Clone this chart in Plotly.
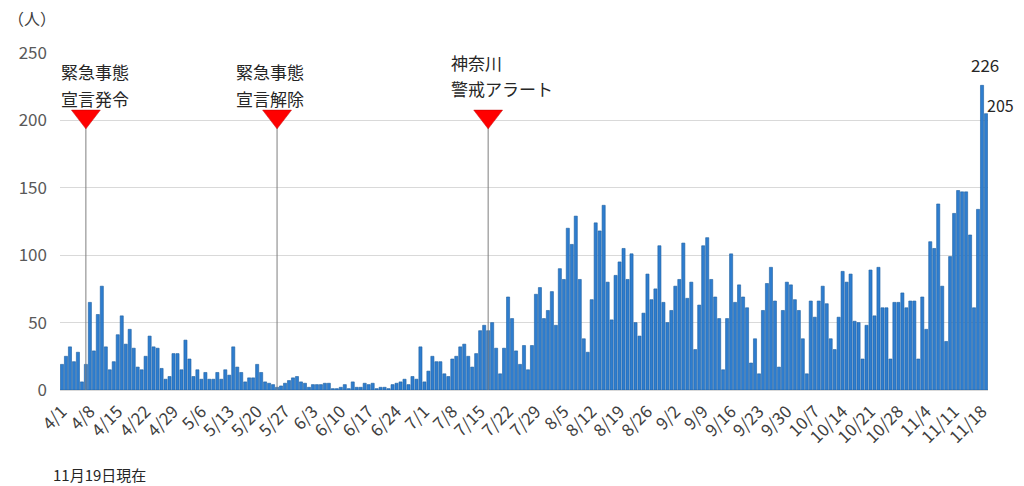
import plotly.graph_objects as go
import pandas as pd

# daily counts, 4/1 - 11/19
apr = [19, 25, 32, 21, 28, 6, 19, 65, 29, 56, 77, 32, 15, 21, 41, 55, 34, 45, 31, 17,
       15, 25, 40, 32, 31, 16, 8, 10, 27, 27]
may = [15, 37, 23, 10, 15, 8, 13, 8, 8, 13, 8, 15, 11, 32, 17, 13, 6, 9, 9, 19,
       13, 6, 5, 4, 2, 3, 5, 7, 9, 10, 6]
jun = [5, 2, 4, 4, 4, 5, 5, 1, 1, 2, 4, 1, 6, 2, 2, 5, 4, 5, 1, 2,
       2, 1, 4, 5, 6, 8, 4, 10, 8, 32]
jul = [6, 14, 25, 21, 21, 12, 10, 23, 25, 32, 34, 25, 17, 27, 44, 48, 44, 50, 31, 12,
       31, 69, 53, 29, 19, 33, 15, 33, 71, 76, 53]
aug = [59, 73, 48, 90, 82, 120, 108, 129, 82, 38, 28, 67, 124, 118, 137, 80, 52, 85, 95, 105,
       82, 101, 50, 40, 57, 86, 67, 75, 107, 65, 50]
sep = [59, 77, 82, 109, 68, 80, 30, 63, 107, 113, 82, 69, 53, 15, 53, 101, 65, 78, 69, 61,
       20, 38, 12, 59, 79, 91, 66, 17, 59, 80]
oct_ = [78, 67, 59, 38, 12, 66, 54, 66, 77, 64, 38, 30, 54, 88, 80, 86, 51, 50, 23, 48,
        89, 55, 91, 61, 61, 23, 65, 65, 72, 61, 66]
nov = [66, 23, 69, 45, 110, 105, 138, 77, 36, 99, 131, 148, 147, 147, 115, 61, 134, 226, 205]

counts = apr + may + jun + jul + aug + sep + oct_ + nov
dates = pd.date_range("2020-04-01", "2020-11-19")
labels = [f"{d.month}/{d.day}" for d in dates]

# events and their two-line captions
events = ["4/7", "5/25", "7/17"]
event_line1 = ["緊急事態", "緊急事態", "神奈川"]
event_line2 = ["宣言発令", "宣言解除", "警戒アラート"]
event_text_x = ["4/1", "5/15", "7/8"]
event_y1 = [236, 236, 243]
event_y2 = [216, 216, 224]

jp = "Noto Sans CJK JP, sans-serif"

fig = go.Figure()
fig.add_trace(go.Bar(x=labels, y=counts,
                     marker_color="#2E7DCF",
                     marker_line=dict(color="#1F5FA0", width=0.6),
                     showlegend=False))

for ev in events:
    fig.add_trace(go.Scatter(x=[ev, ev], y=[0, 203], mode="lines",
                             line=dict(color="#7F7F7F", width=1),
                             showlegend=False, hoverinfo="skip"))
fig.add_trace(go.Scatter(x=events, y=[203] * 3, mode="markers",
                         marker=dict(symbol="triangle-down", size=25, color="#FF0000",
                                     line=dict(color="#C00000", width=0.5)),
                         showlegend=False, hoverinfo="skip"))

for tx, t1, t2, y1, y2 in zip(event_text_x, event_line1, event_line2, event_y1, event_y2):
    for t, ty in ((t1, y1), (t2, y2)):
        fig.add_annotation(x=tx, y=ty, text=t, showarrow=False, xanchor="left",
                           yanchor="middle", xshift=-3,
                           font=dict(family=jp, size=17, color="#262626"))

fig.add_annotation(x=labels[-2], y=counts[-2], text=str(counts[-2]), showarrow=False,
                   yanchor="bottom", yshift=6, xshift=3,
                   font=dict(family=jp, size=17, color="#262626"))
fig.add_annotation(x=labels[-1], y=counts[-1], text=str(counts[-1]), showarrow=False,
                   xanchor="left", yanchor="middle", xshift=-1, yshift=9,
                   font=dict(family=jp, size=16, color="#262626"))

fig.add_annotation(xref="paper", yref="paper", x=-0.058, y=1.105, text="（人）",
                   showarrow=False, xanchor="left", yanchor="middle",
                   font=dict(family=jp, size=16, color="#404040"))
fig.add_annotation(xref="paper", yref="paper", x=-0.010, y=-0.252, text="11月19日現在",
                   showarrow=False, xanchor="left", yanchor="middle",
                   font=dict(family=jp, size=15, color="#262626"))

fig.update_layout(
    width=1024, height=486,
    margin=dict(l=60, r=36, t=53, b=96),
    plot_bgcolor="white", paper_bgcolor="white",
    bargap=0.22,
    font=dict(family=jp),
)
fig.update_xaxes(type="category", range=[-0.5, len(labels) - 0.5],
                 tickmode="array", tickvals=labels[::7], ticktext=labels[::7],
                 tickangle=-45, tickfont=dict(size=17, color="#404040"),
                 ticklabelstandoff=4,
                 showgrid=False, showline=True, linecolor="#D9D9D9", ticks="")
fig.update_yaxes(range=[0, 250], dtick=50, showgrid=True, gridcolor="#D9D9D9",
                 zeroline=True, zerolinecolor="#D9D9D9",
                 tickfont=dict(size=17, color="#595959"), ticklabelstandoff=12)

fig.write_html("out.html", config={"displayModeBar": False},
               post_script="document.body.style.margin='0';")
